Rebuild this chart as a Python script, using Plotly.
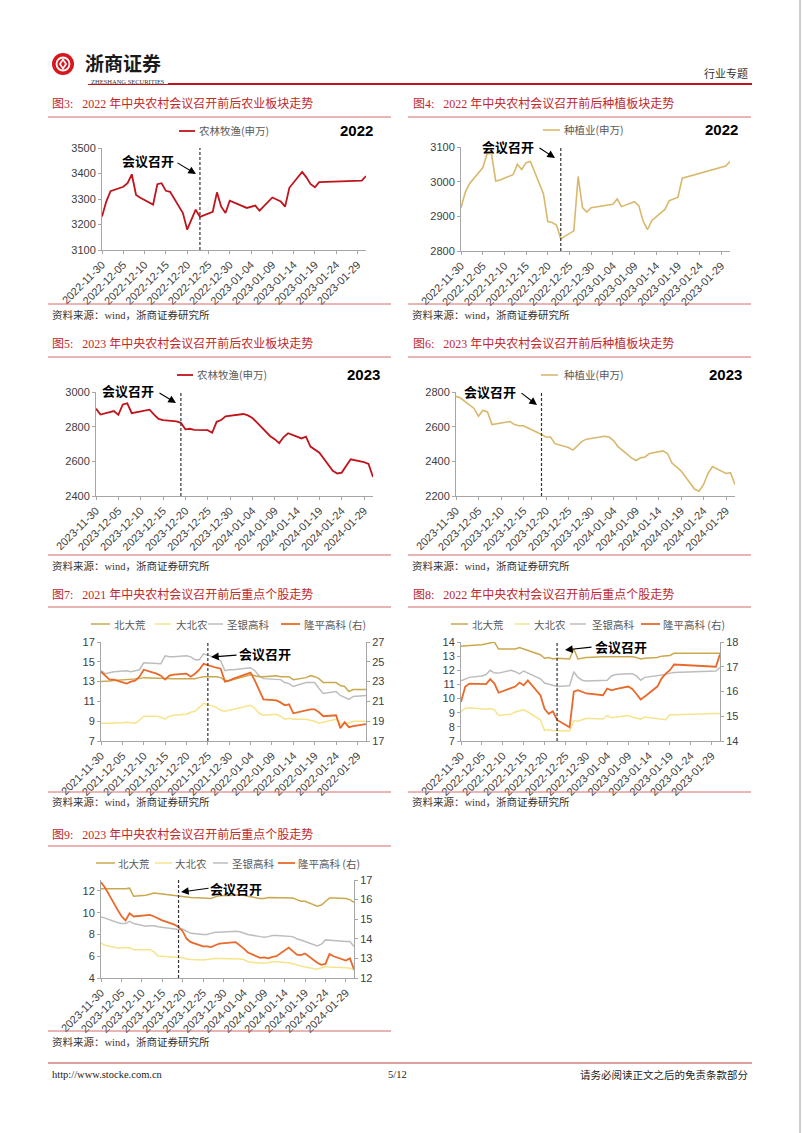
import plotly.graph_objects as go

W, H = 802, 1133

# ---------------- data ----------------
dates_2021 = ["2021-11-30", "2021-12-01", "2021-12-02", "2021-12-03",
              "2021-12-06", "2021-12-07", "2021-12-08", "2021-12-09", "2021-12-10",
              "2021-12-13", "2021-12-14", "2021-12-15", "2021-12-16", "2021-12-17",
              "2021-12-20", "2021-12-21", "2021-12-22", "2021-12-23", "2021-12-24",
              "2021-12-27", "2021-12-28", "2021-12-29", "2021-12-30", "2021-12-31",
              "2022-01-04", "2022-01-05", "2022-01-06", "2022-01-07",
              "2022-01-10", "2022-01-11", "2022-01-12", "2022-01-13", "2022-01-14",
              "2022-01-17", "2022-01-18", "2022-01-19", "2022-01-20", "2022-01-21",
              "2022-01-24", "2022-01-25", "2022-01-26", "2022-01-27", "2022-01-28",
              "2022-01-31"]

dates_2022 = ["2022-11-30", "2022-12-01", "2022-12-02",
              "2022-12-05", "2022-12-06", "2022-12-07", "2022-12-08", "2022-12-09",
              "2022-12-12", "2022-12-13", "2022-12-14", "2022-12-15", "2022-12-16",
              "2022-12-19", "2022-12-20", "2022-12-21", "2022-12-22", "2022-12-23",
              "2022-12-26", "2022-12-27", "2022-12-28", "2022-12-29", "2022-12-30",
              "2023-01-03", "2023-01-04", "2023-01-05", "2023-01-06",
              "2023-01-09", "2023-01-10", "2023-01-11", "2023-01-12", "2023-01-13",
              "2023-01-16", "2023-01-17", "2023-01-18", "2023-01-19", "2023-01-20",
              "2023-01-30", "2023-01-31"]

dates_2023 = ["2023-11-30", "2023-12-01",
              "2023-12-04", "2023-12-05", "2023-12-06", "2023-12-07", "2023-12-08",
              "2023-12-11", "2023-12-12", "2023-12-13", "2023-12-14", "2023-12-15",
              "2023-12-18", "2023-12-19", "2023-12-20", "2023-12-21", "2023-12-22",
              "2023-12-25", "2023-12-26", "2023-12-27", "2023-12-28", "2023-12-29",
              "2024-01-02", "2024-01-03", "2024-01-04", "2024-01-05",
              "2024-01-08", "2024-01-09", "2024-01-10", "2024-01-11", "2024-01-12",
              "2024-01-15", "2024-01-16", "2024-01-17", "2024-01-18", "2024-01-19",
              "2024-01-22", "2024-01-23", "2024-01-24", "2024-01-25", "2024-01-26",
              "2024-01-29", "2024-01-30", "2024-01-31"]

# 农林牧渔(申万) / 种植业(申万)
nlmy_2022 = [3231, 3290, 3331, 3348, 3362, 3397, 3316, 3305, 3278, 3358, 3362, 3332, 3328,
             3245, 3180, 3220, 3258, 3230, 3250, 3326, 3270, 3245, 3293, 3265, 3268, 3274,
             3254, 3306, 3298, 3290, 3270, 3344, 3406, 3385, 3358, 3346, 3366, 3372, 3390]
zzy_2022 = [2925, 2970, 2995, 3040, 3080, 3082, 3002, 3005, 3020, 3050, 3035, 3055, 3058,
            2965, 2885, 2882, 2875, 2835, 2858, 3015, 2925, 2912, 2925, 2932, 2935, 2950,
            2928, 2942, 2930, 2885, 2862, 2888, 2920, 2945, 2950, 2955, 3010, 3045, 3058]
nlmy_2023 = [2904, 2870, 2890, 2868, 2928, 2935, 2878, 2895, 2898, 2870, 2845, 2838, 2830,
             2822, 2785, 2788, 2782, 2780, 2765, 2828, 2838, 2860, 2873, 2865, 2850, 2825,
             2745, 2728, 2705, 2740, 2762, 2732, 2742, 2685, 2668, 2650, 2545, 2530, 2535,
             2570, 2612, 2595, 2585, 2510]
zzy_2023 = [2775, 2765, 2705, 2660, 2695, 2685, 2612, 2625, 2630, 2612, 2605, 2605, 2570,
            2555, 2540, 2540, 2502, 2480, 2465, 2490, 2515, 2528, 2545, 2540, 2520, 2485,
            2420, 2405, 2420, 2425, 2445, 2460, 2445, 2390, 2365, 2345, 2240, 2228, 2265,
            2330, 2370, 2330, 2335, 2265]

# key stocks 2021 (隆平高科 on right axis)
bdh_2021 = [13.0, 13.0, 13.05, 13.1, 13.2, 13.2, 13.3, 13.3, 13.4, 13.35, 13.3, 13.3, 13.3,
            13.3, 13.3, 13.3, 13.3, 13.4, 13.5, 13.5, 13.4, 13.1, 13.1, 13.2, 13.7, 13.6,
            13.5, 13.5, 13.6, 13.5, 13.5, 13.5, 13.2, 13.4, 13.6, 13.5, 13.3, 12.9, 12.9,
            12.6, 12.5, 12.0, 12.2, 12.2]
dbn_2021 = [8.8, 8.8, 8.75, 8.8, 8.9, 8.85, 8.8, 9.1, 9.5, 9.5, 9.4, 9.2, 9.5, 9.6, 9.7,
            9.9, 10.0, 10.4, 10.8, 10.4, 10.1, 10.0, 10.1, 10.2, 10.6, 10.3, 9.8, 9.6, 9.7,
            9.5, 9.2, 9.3, 9.2, 9.2, 9.1, 9.0, 8.8, 8.9, 9.2, 8.7, 8.8, 8.8, 9.0, 9.0]
sygk_2021 = [14.1, 13.8, 13.9, 14.0, 14.1, 14.0, 14.1, 14.2, 14.9, 14.8, 14.8, 15.6, 15.5,
             15.5, 15.6, 15.5, 15.2, 15.2, 15.8, 15.4, 15.1, 14.1, 14.2, 14.2, 14.4, 14.1,
             13.6, 13.3, 13.2, 13.2, 12.9, 12.8, 12.5, 12.9, 12.9, 12.9, 12.3, 11.8, 12.0,
             11.6, 11.4, 11.2, 11.5, 11.6]
lpgk_2021 = [24.0, 23.6, 23.2, 23.2, 22.8, 23.0, 23.1, 23.5, 24.2, 23.8, 23.6, 23.2, 23.6,
             23.7, 23.8, 23.5, 23.8, 24.2, 24.8, 24.4, 24.3, 23.0, 23.1, 23.3, 23.9, 23.1,
             22.2, 21.2, 21.1, 20.9, 20.6, 20.7, 19.8, 20.1, 20.2, 20.2, 19.9, 19.5, 19.6,
             18.3, 18.9, 18.4, 18.5, 18.7]

# key stocks 2022
bdh_2022 = [13.7, 13.75, 13.75, 13.8, 13.85, 13.9, 14.0, 13.5, 13.5, 13.5, 13.6, 13.5, 13.4,
            13.1, 12.85, 12.9, 12.8, 12.85, 12.8, 13.5, 12.8, 12.85, 12.9, 12.95, 12.95,
            12.95, 12.95, 13.0, 12.95, 12.9, 12.8, 12.85, 12.9, 13.0, 13.05, 13.05, 13.2,
            13.2, 13.2]
dbn_2022 = [9.1, 9.3, 9.35, 9.25, 9.25, 9.3, 9.2, 8.8, 8.9, 9.05, 9.1, 9.2, 9.05, 8.5, 7.75,
            7.8, 7.75, 7.75, 7.7, 8.45, 8.4, 8.5, 8.6, 8.55, 8.8, 8.65, 8.7, 8.8, 8.7, 8.65,
            8.55, 8.7, 8.6, 8.55, 8.5, 8.85, 8.85, 8.95, 8.95]
sygk_2022 = [11.25, 11.4, 11.5, 11.6, 11.7, 12.0, 11.8, 11.8, 12.0, 11.9, 11.75, 11.95, 11.8,
             11.4, 11.1, 11.0, 10.9, 10.85, 10.9, 11.9, 11.5, 11.3, 11.25, 11.25, 11.3, 11.6,
             11.7, 11.75, 11.75, 11.6, 11.3, 11.5, 11.6, 11.65, 11.7, 11.8, 11.85, 11.95, 12.2]
lpgk_2022 = [15.58, 16.19, 16.32, 16.32, 16.3, 16.5, 16.32, 15.95, 16.12, 16.2, 16.36, 16.25,
             16.45, 15.85, 15.3, 15.1, 15.2, 14.85, 14.55, 15.99, 16.05, 16.0, 15.92, 15.85,
             16.12, 16.05, 16.1, 16.2, 16.1, 15.9, 15.68, 15.8, 16.2, 16.52, 16.72, 16.86,
             17.09, 17.0, 17.5]

# key stocks 2023
bdh_2023 = [12.2, 12.2, 12.15, 12.15, 12.2, 12.25, 11.5, 11.6, 11.7, 11.8, 11.75, 11.7, 11.6,
            11.55, 11.5, 11.45, 11.4, 11.35, 11.3, 11.3, 11.45, 11.55, 11.6, 11.65, 11.6,
            11.5, 11.3, 11.3, 11.4, 11.4, 11.4, 11.4, 11.35, 11.2, 11.05, 11.05, 10.6, 10.7,
            11.0, 11.35, 11.35, 11.3, 11.2, 10.95]
dbn_2023 = [7.2, 7.0, 6.75, 6.75, 6.8, 6.8, 6.6, 6.6, 6.6, 6.4, 6.0, 6.0, 5.95, 5.9, 5.85,
            5.75, 5.7, 5.65, 5.7, 5.8, 5.8, 5.8, 5.8, 5.75, 5.7, 5.5, 5.35, 5.35, 5.4, 5.5,
            5.5, 5.4, 5.3, 5.15, 5.05, 5.0, 4.8, 4.9, 5.05, 5.0, 5.0, 4.95, 4.9, 4.7]
sygk_2023 = [9.6, 9.5, 9.1, 9.0, 9.0, 9.2, 9.0, 8.75, 8.8, 8.8, 8.7, 8.65, 8.5, 8.45, 8.5,
             8.3, 8.1, 8.0, 8.0, 8.1, 8.2, 8.2, 8.3, 8.25, 8.15, 8.0, 7.8, 7.75, 7.8, 7.9,
             7.9, 7.85, 7.8, 7.6, 7.45, 7.35, 6.95, 7.1, 7.5, 7.5, 7.45, 7.35, 7.35, 6.9]
lpgk_2023 = [16.88, 16.61, 15.50, 15.16, 14.94, 15.30, 15.14, 15.22, 15.22, 15.14, 15.05,
             14.94, 14.72, 14.61, 14.39, 14.00, 13.83, 13.61, 13.61, 13.58, 13.67, 13.75,
             13.83, 13.67, 13.50, 13.30, 13.03, 13.05, 13.00, 13.08, 13.11, 13.55, 13.39,
             13.19, 13.17, 13.25, 12.78, 12.67, 12.72, 13.22, 13.11, 12.89, 13.00, 12.44]

meeting_2021 = "2021-12-25"
meeting_2022 = "2022-12-23"
meeting_2023 = "2023-12-19"

index_names = ["农林牧渔(申万)", "种植业(申万)"]
stock_names = ["北大荒", "大北农", "圣银高科", "隆平高科 (右)"]
titles = ["图3:\u00a0\u00a0\u00a02022 年中央农村会议召开前后农业板块走势",
          "图4:\u00a0\u00a0\u00a02022 年中央农村会议召开前后种植板块走势",
          "图5:\u00a0\u00a0\u00a02023 年中央农村会议召开前后农业板块走势",
          "图6:\u00a0\u00a0\u00a02023 年中央农村会议召开前后种植板块走势",
          "图7:\u00a0\u00a0\u00a02021 年中央农村会议召开前后重点个股走势",
          "图8:\u00a0\u00a0\u00a02022 年中央农村会议召开前后重点个股走势",
          "图9:\u00a0\u00a0\u00a02023 年中央农村会议召开前后重点个股走势"]
source_text = "资料来源：wind，浙商证券研究所"
meeting_label = "会议召开"

# ---------------- styling ----------------
SANS = "Liberation Sans, Arial, Noto Sans CJK SC, sans-serif"
CJK = "Noto Sans CJK SC, sans-serif"
SERIF = "Liberation Serif, Noto Sans CJK SC, serif"
C_NLMY = "#C0141C"
C_ZZY = "#D8B86C"
C_BDH = "#C9A84E"
C_DBN = "#F6E48C"
C_SYGK = "#BDBDBD"
C_LPGK = "#E8692A"
C_RULE = "#D46A6A"
C_TITLE = "#C0272D"

fig = go.Figure()
annotations = []
shapes = []
layout_axes = {}


def X(x):
    return x / W


def Y(y):
    return 1 - y / H


def text(x, y, s, size=11, color="#404040", family=SANS, xanchor="left", yanchor="middle"):
    annotations.append(dict(x=X(x), y=Y(y), xref="paper", yref="paper", text=s,
                            showarrow=False, xanchor=xanchor, yanchor=yanchor,
                            font=dict(family=family, size=size, color=color)))


def hline(x0, x1, y, color, width=1.0):
    shapes.append(dict(type="line", xref="paper", yref="paper", x0=X(x0), x1=X(x1),
                       y0=Y(y), y1=Y(y), line=dict(color=color, width=width)))


def arrow(tx, ty, hx, hy):
    annotations.append(dict(x=X(hx), y=Y(hy), xref="paper", yref="paper",
                            ax=tx - hx, ay=ty - hy, text="", showarrow=True,
                            arrowhead=2, arrowsize=1.4, arrowwidth=1.1,
                            arrowcolor="#000000"))


def legend_item(lx0, lx1, y, color, width, label, tx):
    hline(lx0, lx1, y, color, width)
    text(tx, y, label, size=10.5, color="#595959", family=CJK)


axis_style = dict(showgrid=False, zeroline=False, showline=True, linecolor="#A6A6A6",
                  linewidth=1, ticks="outside", ticklen=3, tickcolor="#A6A6A6",
                  tickfont=dict(family=SANS, size=11, color="#404040"),
                  automargin=False, fixedrange=True)


def panel(k, box, start, end, yrange, ydtick, meeting, right=None):
    x0, y0, x1, y1 = box
    xn = "xaxis" if k == 1 else f"xaxis{k}"
    yn = "yaxis" if k == 1 else f"yaxis{k}"
    xr = "x" if k == 1 else f"x{k}"
    yr = "y" if k == 1 else f"y{k}"
    layout_axes[xn] = dict(domain=[X(x0), X(x1)], anchor=yr, type="date",
                           range=[start, end], tick0=start, dtick=5 * 86400000,
                           tickformat="%Y-%m-%d", tickangle=-45, **axis_style)
    layout_axes[yn] = dict(domain=[Y(y1), Y(y0)], anchor=xr, range=yrange,
                           dtick=ydtick, tick0=yrange[0], **axis_style)
    if right is not None:
        rk = k + 3
        layout_axes[f"yaxis{rk}"] = dict(domain=[Y(y1), Y(y0)], anchor=xr, overlaying=yr,
                                         side="right", range=right[0], dtick=right[1],
                                         tick0=right[0][0], **axis_style)
    shapes.append(dict(type="line", xref=xr, yref=f"{yr} domain", x0=meeting, x1=meeting,
                       y0=0, y1=1, line=dict(color="#333333", width=1.2, dash="3px,2px")))
    return xr, yr


def line(xr, yr, xs, ys, color, width):
    fig.add_trace(go.Scatter(x=xs, y=ys, xaxis=xr, yaxis=yr, mode="lines",
                             line=dict(color=color, width=width), showlegend=False,
                             hoverinfo="x+y"))


# ---------------- panels ----------------
# Fig 3
xr, yr = panel(1, (102, 148, 366, 250), "2022-11-30", "2023-01-31", [3100, 3500], 100, meeting_2022)
line(xr, yr, dates_2022, nlmy_2022, C_NLMY, 1.8)
# Fig 4
xr, yr = panel(2, (461, 147, 730, 251), "2022-11-30", "2023-01-31", [2800, 3100], 100, meeting_2022)
line(xr, yr, dates_2022, zzy_2022, C_ZZY, 1.6)
# Fig 5
xr, yr = panel(3, (96, 392, 373, 496), "2023-11-30", "2024-01-31", [2400, 3000], 200, meeting_2023)
line(xr, yr, dates_2023, nlmy_2023, C_NLMY, 1.8)
# Fig 6
xr, yr = panel(4, (456, 392, 735, 496), "2023-11-30", "2024-01-31", [2200, 2800], 200, meeting_2023)
line(xr, yr, dates_2023, zzy_2023, C_ZZY, 1.6)
# Fig 7
xr, yr = panel(5, (101, 642, 366, 741), "2021-11-30", "2022-01-31", [7, 17], 2, meeting_2021,
               right=([17, 27], 2))
line(xr, yr, dates_2021, sygk_2021, C_SYGK, 1.5)
line(xr, yr, dates_2021, dbn_2021, C_DBN, 1.5)
line(xr, yr, dates_2021, bdh_2021, C_BDH, 1.5)
line(xr, "y8", dates_2021, lpgk_2021, C_LPGK, 1.8)
# Fig 8
xr, yr = panel(6, (461, 642, 720, 741), "2022-11-30", "2023-01-31", [7, 14], 1, meeting_2022,
               right=([14, 18], 1))
line(xr, yr, dates_2022, sygk_2022, C_SYGK, 1.5)
line(xr, yr, dates_2022, dbn_2022, C_DBN, 1.5)
line(xr, yr, dates_2022, bdh_2022, C_BDH, 1.5)
line(xr, "y9", dates_2022, lpgk_2022, C_LPGK, 1.8)
# Fig 9
xr, yr = panel(7, (101, 880, 354, 978), "2023-11-30", "2024-01-31", [4, 13], 2, meeting_2023,
               right=([12, 17], 1))
line(xr, yr, dates_2023, sygk_2023, C_SYGK, 1.5)
line(xr, yr, dates_2023, dbn_2023, C_DBN, 1.5)
line(xr, yr, dates_2023, bdh_2023, C_BDH, 1.5)
line(xr, "y10", dates_2023, lpgk_2023, C_LPGK, 1.8)

# ---------------- titles, rules, sources ----------------
title_pos = [(50, 103), (411, 103), (50, 343), (411, 343), (50, 594), (411, 594), (50, 834)]
for (tx, ty), t in zip(title_pos, titles):
    text(tx, ty, t, size=12, color=C_TITLE, family=SERIF)

for y in (117, 357, 607):
    hline(48, 391, y, C_RULE, 1)
    hline(408, 751, y, C_RULE, 1)
hline(48, 391, 846, C_RULE, 1)
for y in (304, 555, 792):
    hline(48, 391, y, C_RULE, 1)
    hline(408, 751, y, C_RULE, 1)
hline(48, 391, 1031, C_RULE, 1)

for (sx, sy) in [(50, 315), (410, 315), (50, 566), (410, 566), (50, 802), (410, 802), (50, 1042)]:
    text(sx, sy, source_text, size=10.5, color="#333333", family=SERIF)

# ---------------- legends & labels ----------------
legend_item(179, 195, 131, C_NLMY, 1.8, index_names[0], 197)
text(356, 131, "<b>2022</b>", size=15, color="#000000", family=SANS, xanchor="center")
text(148, 161, "<b>" + meeting_label + "</b>", size=13, color="#000000", family=CJK, xanchor="center")
arrow(176, 162, 196, 174)

legend_item(543, 560, 130, C_ZZY, 1.6, index_names[1], 562)
text(721, 130, "<b>2022</b>", size=15, color="#000000", family=SANS, xanchor="center")
text(508, 146, "<b>" + meeting_label + "</b>", size=13, color="#000000", family=CJK, xanchor="center")
arrow(538, 147, 555, 158)

legend_item(177, 193, 375, C_NLMY, 1.8, index_names[0], 195)
text(363, 375, "<b>2023</b>", size=15, color="#000000", family=SANS, xanchor="center")
text(128, 390, "<b>" + meeting_label + "</b>", size=13, color="#000000", family=CJK, xanchor="center")
arrow(158, 392, 176, 403)

legend_item(541, 558, 375, C_ZZY, 1.6, index_names[1], 562)
text(725, 375, "<b>2023</b>", size=15, color="#000000", family=SANS, xanchor="center")
text(490, 391, "<b>" + meeting_label + "</b>", size=13, color="#000000", family=CJK, xanchor="center")
arrow(520, 392, 537, 405)

stock_colors = [C_BDH, C_DBN, C_SYGK, C_LPGK]
stock_widths = [1.5, 1.5, 1.5, 1.8]
leg7 = [(91, 110, 112), (155, 171, 174), (208, 223, 225), (281, 300, 302)]
leg8 = [(451, 468, 470), (515, 530, 532), (570, 586, 590), (641, 660, 661)]
leg9 = [(96, 115, 116), (155, 172, 173), (213, 228, 230), (278, 295, 296)]
for legs, ly in ((leg7, 624), (leg8, 624), (leg9, 863)):
    for (a, b, t), name, c, w in zip(legs, stock_names, stock_colors, stock_widths):
        legend_item(a, b, ly, c, w, name, t)

text(265, 653, "<b>" + meeting_label + "</b>", size=13, color="#000000", family=CJK, xanchor="center")
arrow(238, 655, 211, 657)
text(621, 646, "<b>" + meeting_label + "</b>", size=13, color="#000000", family=CJK, xanchor="center")
arrow(593, 647, 565, 650)
text(236, 888, "<b>" + meeting_label + "</b>", size=13, color="#000000", family=CJK, xanchor="center")
arrow(210, 888, 181, 892)

# ---------------- header / footer ----------------
shapes.append(dict(type="circle", xref="paper", yref="paper", x0=X(52), x1=X(74), y0=Y(75), y1=Y(53),
                   fillcolor="#D7171F", line=dict(width=0)))
shapes.append(dict(type="circle", xref="paper", yref="paper", x0=X(56.5), x1=X(69.5), y0=Y(70.5), y1=Y(57.5),
                   fillcolor="rgba(0,0,0,0)", line=dict(color="#FFFFFF", width=1.8)))
shapes.append(dict(type="path", xref="paper", yref="paper",
                   path=f"M {X(63)},{Y(58)} L {X(67)},{Y(64)} L {X(63)},{Y(70)} L {X(59)},{Y(64)} Z",
                   fillcolor="#FFFFFF", line=dict(width=0)))
shapes.append(dict(type="path", xref="paper", yref="paper",
                   path=f"M {X(63)},{Y(61)} L {X(65)},{Y(64)} L {X(63)},{Y(67)} L {X(61)},{Y(64)} Z",
                   fillcolor="#D7171F", line=dict(width=0)))
text(123, 62.5, "<b>浙商证券</b>", size=19, color="#1A1A1A", family=CJK, xanchor="center")
text(128, 81.5, "ZHESHANG SECURITIES", size=6.5, color="#333333", family=SERIF, xanchor="center")
hline(88, 168, 84.5, "#C0141C", 1)
hline(168, 752, 84, "#C0141C", 2)
text(750, 73, "行业专题", size=11, color="#333333", family=CJK, xanchor="right")

hline(48, 752, 1063, "#D08080", 1.5)
text(50, 1074, "http://www.stocke.com.cn", size=10.5, color="#222222", family=SERIF)
text(397, 1074, "5/12", size=10.5, color="#222222", family=SERIF, xanchor="center")
text(750, 1074, "请务必阅读正文之后的免责条款部分", size=10.5, color="#222222", family=CJK, xanchor="right")
shapes.append(dict(type="line", xref="paper", yref="paper", x0=X(800), x1=X(800), y0=0, y1=1,
                   line=dict(color="#9A9A9A", width=1)))

fig.update_layout(layout_axes)
fig.update_layout(width=W, height=H, margin=dict(l=0, r=0, t=0, b=0),
                  paper_bgcolor="#FFFFFF", plot_bgcolor="#FFFFFF",
                  showlegend=False, annotations=annotations, shapes=shapes,
                  font=dict(family=SANS))

fig.write_html("out.html")
